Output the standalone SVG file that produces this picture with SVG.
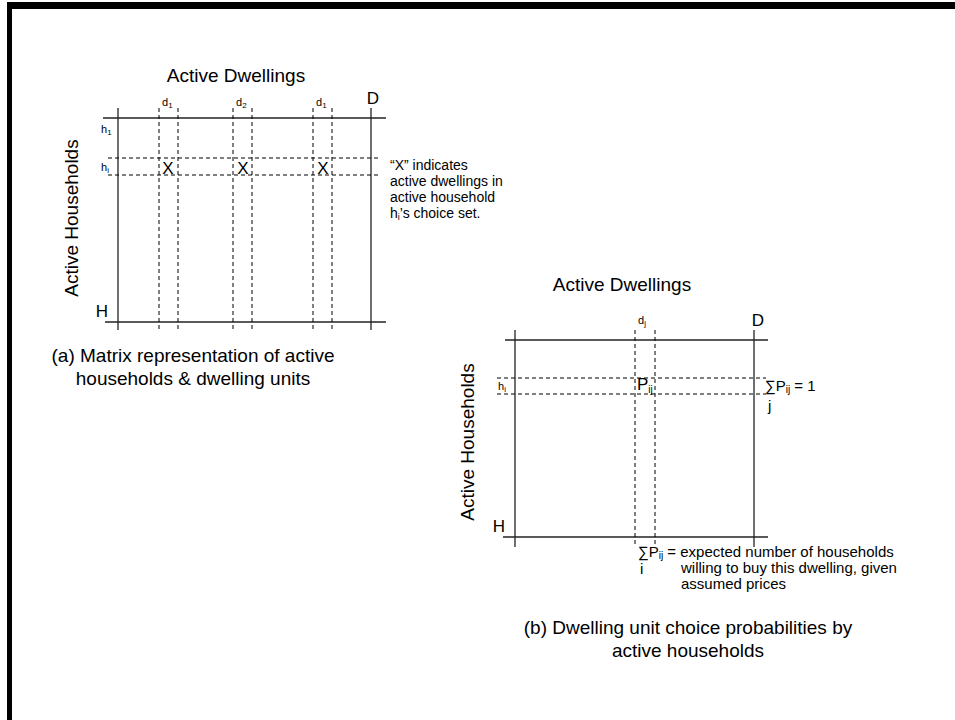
<svg xmlns="http://www.w3.org/2000/svg" width="955" height="720" viewBox="0 0 955 720">
<style>
text{font-family:"Liberation Sans",Arial,sans-serif;fill:#000}
.big{font-size:19px}
.med{font-size:17px}
.sm{font-size:11px}
.note{font-size:15px}
.note2{font-size:14px}
.solid{stroke:#222;stroke-width:1.3;fill:none}
.dash{stroke:#000;stroke-width:1;stroke-dasharray:4 3;fill:none}
</style>
<rect x="0" y="0" width="955" height="720" fill="#fff"/>
<g id="frame">
<rect x="7" y="2" width="948" height="7" fill="#000"/>
<rect x="7" y="2" width="5" height="718" fill="#000"/>
</g>
<g id="panel-a">
<text class="big" x="236" y="82" text-anchor="middle">Active Dwellings</text>
<text class="big" x="72" y="218" text-anchor="middle" transform="rotate(-90 72 218)" dy="6">Active Households</text>
<g id="a-lines">
<line class="solid" x1="118" y1="108" x2="118" y2="330"/>
<line class="solid" x1="371" y1="108" x2="371" y2="330"/>
<line class="solid" x1="103" y1="118" x2="386" y2="118"/>
<line class="solid" x1="105" y1="322" x2="386" y2="322"/>
<line class="dash" x1="159" y1="108" x2="159" y2="330"/>
<line class="dash" x1="178" y1="108" x2="178" y2="330"/>
<line class="dash" x1="233" y1="108" x2="233" y2="330"/>
<line class="dash" x1="252" y1="108" x2="252" y2="330"/>
<line class="dash" x1="313" y1="108" x2="313" y2="330"/>
<line class="dash" x1="332" y1="108" x2="332" y2="330"/>
<line class="dash" x1="108" y1="158" x2="378" y2="158"/>
<line class="dash" x1="108" y1="175" x2="378" y2="175"/>
</g>
<text class="med" x="373" y="104" text-anchor="middle">D</text>
<text class="sm" x="162" y="106">d<tspan font-size="8" dy="2">1</tspan></text>
<text class="sm" x="236" y="106">d<tspan font-size="8" dy="2">2</tspan></text>
<text class="sm" x="316" y="106">d<tspan font-size="8" dy="2">1</tspan></text>
<text class="sm" x="101" y="133">h<tspan font-size="8" dy="2">1</tspan></text>
<text class="sm" x="101" y="171">h<tspan font-size="8" dy="2">i</tspan></text>
<text class="med" x="168" y="174" text-anchor="middle">X</text>
<text class="med" x="243" y="174" text-anchor="middle">X</text>
<text class="med" x="323" y="174" text-anchor="middle">X</text>
<text class="med" x="102" y="317" text-anchor="middle">H</text>
<text class="big" x="193" y="362" text-anchor="middle">(a) Matrix representation of active</text>
<text class="big" x="193" y="385" text-anchor="middle">households &amp; dwelling units</text>
</g>
<g id="note-a">
<text class="note2" x="390" y="170">“X” indicates</text>
<text class="note2" x="390" y="186">active dwellings in</text>
<text class="note2" x="390" y="202">active household</text>
<text class="note2" x="390" y="218">h<tspan font-size="9" dy="2">i</tspan><tspan dy="-2">’s choice set.</tspan></text>
</g>
<g id="panel-b">
<text class="big" x="622" y="291" text-anchor="middle">Active Dwellings</text>
<text class="big" x="468" y="442" text-anchor="middle" transform="rotate(-90 468 442)" dy="6">Active Households</text>
<g id="b-lines">
<line class="solid" x1="515" y1="330" x2="515" y2="547"/>
<line class="solid" x1="754" y1="330" x2="754" y2="547"/>
<line class="solid" x1="505" y1="340" x2="768" y2="340"/>
<line class="solid" x1="503" y1="537" x2="768" y2="537"/>
<line class="dash" x1="635" y1="330" x2="635" y2="547"/>
<line class="dash" x1="655" y1="330" x2="655" y2="547"/>
<line class="dash" x1="497" y1="378" x2="766" y2="378"/>
<line class="dash" x1="497" y1="394" x2="766" y2="394"/>
</g>
<text class="med" x="758" y="326" text-anchor="middle">D</text>
<text class="sm" x="638" y="324">d<tspan font-size="8" dy="2">j</tspan></text>
<text class="sm" x="498" y="390">h<tspan font-size="8" dy="2">i</tspan></text>
<text class="med" x="637" y="390">P<tspan font-size="10" dy="3">ij</tspan></text>
<text class="note" x="765" y="391">∑P<tspan font-size="10" dy="2">ij</tspan><tspan dy="-2"> = 1</tspan></text>
<text class="note" x="768" y="411">j</text>
<text class="med" x="499" y="532" text-anchor="middle">H</text>
<text class="note" x="638" y="557">∑P<tspan font-size="10" dy="2">ij</tspan><tspan dy="-2"> = expected number of households</tspan></text>
<text class="note" x="640" y="574">i</text>
<text class="note" x="681" y="573">willing to buy this dwelling, given</text>
<text class="note" x="681" y="589">assumed prices</text>
<text class="big" x="688" y="634" text-anchor="middle">(b) Dwelling unit choice probabilities by</text>
<text class="big" x="688" y="657" text-anchor="middle">active households</text>
</g>
</svg>
